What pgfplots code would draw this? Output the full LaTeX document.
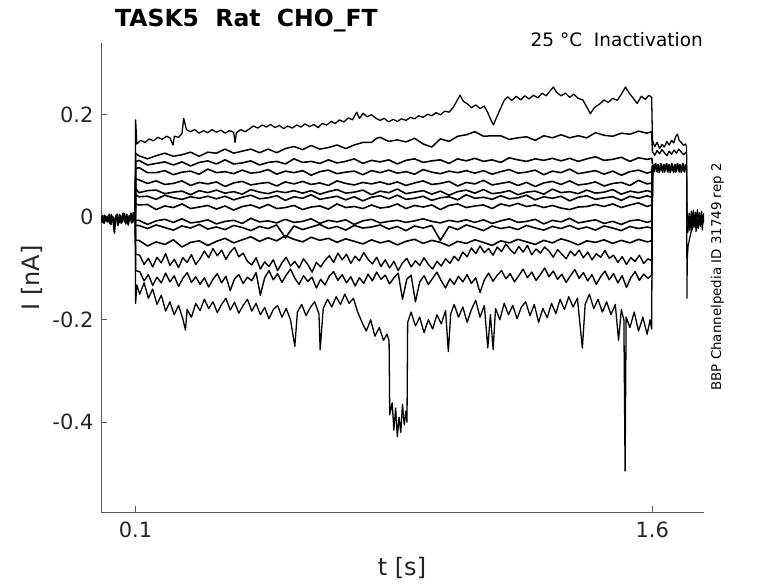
\documentclass[border=0pt]{standalone}
\usepackage{pgfplots}
\usepackage{pgfplotstable}
\pgfplotsset{compat=1.18}
\usepackage{fontspec}
\setmainfont{DejaVu Sans}
\definecolor{axgray}{RGB}{90,90,90}
\definecolor{txt}{RGB}{38,38,38}

\pgfplotstableread{
t C D E F G H I J K
0.0995 0 0 0 0 0 0 0 0 0
0.1005 0.108 0.095 0.075 0.056 0.044 0.026 -0.006 -0.016 -0.045
0.110 0.111 0.097 0.073 0.048 0.040 0.024 -0.006 -0.016 -0.045
0.135 0.102 0.087 0.066 0.052 0.041 0.025 -0.014 -0.022 -0.056
0.160 0.105 0.087 0.071 0.053 0.035 0.015 -0.007 -0.015 -0.048
0.185 0.108 0.091 0.064 0.046 0.043 0.022 -0.004 -0.020 -0.053
0.210 0.102 0.083 0.066 0.049 0.038 0.019 -0.010 -0.025 -0.044
0.235 0.108 0.088 0.071 0.051 0.035 0.026 -0.003 -0.017 -0.058
0.260 0.100 0.090 0.062 0.044 0.040 0.017 -0.011 -0.021 -0.049
0.285 0.107 0.084 0.068 0.052 0.037 0.020 -0.009 -0.014 -0.046
0.310 0.110 0.094 0.065 0.048 0.041 0.023 -0.005 -0.023 -0.055
0.335 0.104 0.087 0.069 0.053 0.036 0.016 -0.013 -0.019 -0.047
0.360 0.112 0.089 0.060 0.047 0.041 0.022 -0.008 -0.024 -0.041
0.385 0.104 0.085 0.067 0.050 0.034 0.014 -0.006 -0.016 -0.050
0.410 0.106 0.092 0.070 0.045 0.039 0.021 -0.012 -0.020 -0.044
0.435 0.110 0.086 0.063 0.054 0.043 0.024 -0.002 -0.026 -0.038
0.460 0.102 0.088 0.066 0.049 0.036 0.018 -0.009 -0.018 -0.047
0.485 0.107 0.093 0.068 0.046 0.038 0.025 -0.007 -0.022 -0.040
0.510 0.109 0.084 0.061 0.051 0.042 0.017 -0.011 -0.015 -0.046
0.535 0.104 0.090 0.069 0.048 0.033 0.019 -0.004 -0.040 -0.036
0.560 0.114 0.087 0.065 0.052 0.040 0.023 -0.010 -0.017 -0.043
0.585 0.107 0.091 0.070 0.047 0.037 0.015 -0.008 -0.024 -0.048
0.610 0.109 0.082 0.064 0.052 0.044 0.020 -0.003 -0.019 -0.039
0.635 0.105 0.089 0.067 0.045 0.035 0.022 -0.012 -0.014 -0.045
0.660 0.112 0.092 0.062 0.050 0.038 0.016 -0.006 -0.022 -0.041
0.685 0.106 0.085 0.071 0.054 0.041 0.026 -0.009 -0.018 -0.049
0.710 0.109 0.088 0.066 0.047 0.034 0.019 -0.005 -0.025 -0.042
0.735 0.114 0.090 0.063 0.049 0.040 0.021 -0.014 -0.016 -0.047
0.760 0.105 0.083 0.068 0.053 0.032 0.017 -0.007 -0.021 -0.052
0.785 0.111 0.091 0.065 0.044 0.039 0.024 -0.004 -0.019 -0.044
0.810 0.108 0.087 0.069 0.051 0.042 0.018 -0.011 -0.015 -0.050
0.835 0.112 0.092 0.064 0.048 0.036 0.020 -0.008 -0.023 -0.046
0.860 0.104 0.086 0.069 0.055 0.043 0.026 -0.006 -0.018 -0.054
0.885 0.111 0.089 0.062 0.046 0.035 0.017 -0.010 -0.026 -0.047
0.910 0.114 0.084 0.067 0.049 0.037 0.023 -0.007 -0.017 -0.043
0.935 0.107 0.093 0.071 0.052 0.041 0.020 -0.003 -0.021 -0.051
0.960 0.110 0.088 0.064 0.045 0.033 0.024 -0.008 -0.016 -0.045
0.985 0.112 0.085 0.066 0.051 0.038 0.015 -0.011 -0.045 -0.049
1.010 0.105 0.090 0.070 0.043 0.040 0.023 -0.006 -0.018 -0.056
1.035 0.114 0.087 0.061 0.050 0.034 0.026 -0.009 -0.024 -0.047
1.060 0.110 0.091 0.068 0.053 0.044 0.019 -0.005 -0.015 -0.051
1.085 0.115 0.086 0.065 0.047 0.037 0.022 -0.010 -0.020 -0.044
1.110 0.109 0.091 0.072 0.054 0.039 0.024 -0.005 -0.026 -0.049
1.135 0.112 0.084 0.063 0.046 0.035 0.017 -0.012 -0.017 -0.055
1.160 0.107 0.089 0.066 0.048 0.042 0.026 -0.007 -0.022 -0.046
1.185 0.116 0.093 0.069 0.052 0.036 0.022 -0.003 -0.019 -0.050
1.210 0.112 0.086 0.062 0.044 0.038 0.027 -0.010 -0.024 -0.043
1.235 0.109 0.088 0.068 0.049 0.043 0.021 -0.008 -0.016 -0.048
1.260 0.114 0.092 0.060 0.051 0.034 0.024 -0.004 -0.021 -0.053
1.285 0.111 0.083 0.067 0.045 0.040 0.019 -0.013 -0.025 -0.045
1.310 0.115 0.090 0.070 0.055 0.037 0.023 -0.006 -0.018 -0.050
1.335 0.110 0.087 0.064 0.048 0.041 0.018 -0.009 -0.022 -0.042
1.360 0.115 0.094 0.071 0.050 0.032 0.015 -0.002 -0.016 -0.047
1.385 0.109 0.085 0.063 0.046 0.039 0.020 -0.011 -0.023 -0.054
1.410 0.114 0.088 0.065 0.053 0.042 0.021 -0.008 -0.019 -0.046
1.435 0.118 0.091 0.069 0.047 0.035 0.025 -0.005 -0.025 -0.049
1.460 0.111 0.084 0.061 0.049 0.038 0.021 -0.012 -0.017 -0.044
1.485 0.113 0.090 0.066 0.054 0.040 0.026 -0.008 -0.021 -0.051
1.510 0.117 0.082 0.068 0.045 0.033 0.019 -0.014 -0.026 -0.045
1.535 0.109 0.089 0.062 0.051 0.041 0.024 -0.007 -0.018 -0.050
1.560 0.116 0.092 0.072 0.048 0.037 0.028 -0.005 -0.022 -0.043
1.585 0.113 0.086 0.065 0.052 0.042 0.021 -0.010 -0.019 -0.048
1.5985 0.115 0.089 0.067 0.049 0.039 0.024 -0.007 -0.021 -0.046
1.6005 0.104 0.100 0.092 0.097 0.088 0.102 0.095 0.090 0.099
}\steps

\begin{document}
\begin{tikzpicture}
\path[use as bounding box] (0,0) rectangle (778pt,583pt);
\begin{axis}[
  at={(101pt,71pt)}, anchor=south west,
  scale only axis, width=603pt, height=469pt,
  xmin=0, xmax=1.75, ymin=-0.575, ymax=0.34,
  axis x line*=bottom, axis y line*=left,
  axis line style={draw=axgray, line width=0.7pt, -},
  tick style={draw=axgray, line width=0.7pt},
  major tick length=6pt, tick align=inside,
  xtick={0.1,1.6}, xticklabels={0.1,1.6},
  ytick={-0.4,-0.2,0,0.2}, yticklabels={-0.4,-0.2,0,0.2},
  ticklabel style={font=\fontsize{21pt}{25pt}\selectfont, text=txt},
  yticklabel style={xshift=-4pt},
  xticklabel style={yshift=-6pt},
  every axis plot post/.append style={black, mark=none, solid, line join=round},
  clip=true,
]
% pre-step baseline
\addplot[line width=1.6pt] coordinates {(0,-0.002)(0.005,-0.010)(0.01,0.004)(0.015,-0.008)(0.02,0.002)(0.025,-0.012)(0.03,0.005)(0.035,-0.006)(0.039,-0.031)(0.042,-0.004)(0.047,0.006)(0.052,-0.011)(0.057,0.003)(0.062,-0.009)(0.067,0.007)(0.072,-0.013)(0.077,0.004)(0.082,-0.007)(0.087,0.008)(0.092,-0.010)(0.097,0.005)(0.0995,0.0)};
\addplot[line width=1.6pt] coordinates {(0,-0.008)(0.004,0.003)(0.009,-0.012)(0.014,0.002)(0.019,-0.009)(0.024,0.006)(0.029,-0.014)(0.034,0.001)(0.039,-0.010)(0.044,0.004)(0.049,-0.016)(0.054,0.005)(0.059,-0.012)(0.064,0.008)(0.069,-0.009)(0.074,0.006)(0.079,-0.015)(0.084,0.003)(0.089,-0.011)(0.094,0.009)(0.0995,-0.006)};
% trace A (top)
\addplot[line width=1.3pt] coordinates {(0.0995,0.000)(0.1005,0.190)(0.104,0.143)(0.115,0.150)(0.128,0.146)(0.140,0.153)(0.152,0.149)(0.165,0.156)(0.178,0.152)(0.190,0.158)(0.200,0.155)(0.209,0.141)(0.213,0.158)(0.225,0.156)(0.235,0.163)(0.240,0.193)(0.248,0.171)(0.260,0.167)(0.272,0.171)(0.285,0.164)(0.298,0.169)(0.310,0.165)(0.322,0.171)(0.335,0.166)(0.348,0.170)(0.360,0.164)(0.372,0.169)(0.385,0.166)(0.389,0.146)(0.393,0.165)(0.405,0.171)(0.418,0.167)(0.430,0.172)(0.442,0.178)(0.455,0.174)(0.468,0.180)(0.480,0.176)(0.492,0.181)(0.505,0.175)(0.518,0.179)(0.530,0.173)(0.542,0.178)(0.555,0.174)(0.568,0.180)(0.580,0.176)(0.592,0.182)(0.605,0.177)(0.618,0.181)(0.630,0.175)(0.642,0.183)(0.655,0.180)(0.668,0.187)(0.680,0.183)(0.692,0.190)(0.705,0.186)(0.718,0.194)(0.730,0.190)(0.742,0.205)(0.750,0.193)(0.761,0.203)(0.772,0.196)(0.785,0.200)(0.798,0.193)(0.810,0.189)(0.822,0.193)(0.835,0.186)(0.848,0.191)(0.860,0.187)(0.872,0.192)(0.885,0.189)(0.898,0.195)(0.910,0.192)(0.922,0.198)(0.935,0.195)(0.948,0.201)(0.960,0.198)(0.972,0.204)(0.985,0.200)(0.998,0.207)(1.010,0.205)(1.022,0.214)(1.032,0.226)(1.042,0.238)(1.052,0.226)(1.062,0.222)(1.075,0.214)(1.088,0.219)(1.100,0.212)(1.112,0.217)(1.122,0.205)(1.130,0.192)(1.139,0.180)(1.148,0.195)(1.160,0.213)(1.170,0.228)(1.180,0.235)(1.192,0.228)(1.205,0.236)(1.218,0.229)(1.230,0.237)(1.242,0.231)(1.255,0.238)(1.268,0.233)(1.280,0.242)(1.292,0.237)(1.305,0.248)(1.313,0.254)(1.322,0.244)(1.335,0.237)(1.348,0.242)(1.360,0.234)(1.372,0.240)(1.385,0.232)(1.398,0.229)(1.410,0.215)(1.420,0.202)(1.432,0.214)(1.449,0.222)(1.460,0.229)(1.472,0.224)(1.485,0.232)(1.498,0.228)(1.510,0.240)(1.522,0.254)(1.532,0.243)(1.545,0.232)(1.556,0.222)(1.568,0.236)(1.580,0.230)(1.590,0.238)(1.598,0.234)(1.6005,0.150)};
% trace B
\addplot[line width=1.5pt] coordinates {(0.0995,0)(0.1005,0.125)(0.110,0.120)(0.135,0.114)(0.160,0.120)(0.185,0.125)(0.210,0.119)(0.235,0.122)(0.260,0.127)(0.285,0.119)(0.310,0.127)(0.335,0.125)(0.360,0.133)(0.385,0.125)(0.410,0.129)(0.435,0.133)(0.460,0.126)(0.485,0.133)(0.510,0.126)(0.535,0.134)(0.560,0.138)(0.585,0.132)(0.610,0.140)(0.635,0.133)(0.660,0.136)(0.685,0.141)(0.710,0.134)(0.735,0.141)(0.760,0.146)(0.785,0.146)(0.800,0.154)(0.810,0.156)(0.835,0.148)(0.860,0.151)(0.885,0.147)(0.910,0.154)(0.935,0.143)(0.960,0.137)(0.985,0.153)(1.010,0.148)(1.035,0.158)(1.060,0.161)(1.085,0.167)(1.110,0.158)(1.135,0.159)(1.160,0.159)(1.185,0.152)(1.210,0.155)(1.235,0.157)(1.260,0.150)(1.285,0.159)(1.310,0.155)(1.335,0.161)(1.360,0.155)(1.385,0.159)(1.410,0.155)(1.435,0.165)(1.460,0.160)(1.485,0.158)(1.510,0.164)(1.535,0.162)(1.560,0.168)(1.585,0.164)(1.598,0.167)(1.6005,0.128)};
% middle traces
\addplot[line width=1.6pt] table[x=t,y=C]{\steps};
\addplot[line width=1.6pt] table[x=t,y=D]{\steps};
\addplot[line width=1.6pt] table[x=t,y=E]{\steps};
\addplot[line width=1.6pt] table[x=t,y=F]{\steps};
\addplot[line width=1.6pt] table[x=t,y=G]{\steps};
\addplot[line width=1.6pt] table[x=t,y=H]{\steps};
\addplot[line width=1.6pt] table[x=t,y=I]{\steps};
\addplot[line width=1.6pt] table[x=t,y=J]{\steps};
\addplot[line width=1.6pt] table[x=t,y=K]{\steps};
% trace L
\addplot[line width=1.4pt] coordinates {(0.0995,0)(0.1005,-0.072)(0.1125,-0.074)(0.125,-0.092)(0.1375,-0.080)(0.150,-0.097)(0.1625,-0.078)(0.175,-0.089)(0.1875,-0.071)(0.200,-0.094)(0.2125,-0.082)(0.225,-0.098)(0.2375,-0.079)(0.250,-0.088)(0.2625,-0.073)(0.275,-0.092)(0.2875,-0.081)(0.300,-0.066)(0.3125,-0.079)(0.325,-0.061)(0.3375,-0.075)(0.350,-0.064)(0.3625,-0.082)(0.375,-0.068)(0.3875,-0.059)(0.400,-0.077)(0.4125,-0.070)(0.425,-0.086)(0.4375,-0.093)(0.450,-0.079)(0.4625,-0.101)(0.475,-0.087)(0.4875,-0.096)(0.500,-0.083)(0.5125,-0.104)(0.525,-0.089)(0.5375,-0.078)(0.550,-0.095)(0.5625,-0.086)(0.575,-0.099)(0.5875,-0.081)(0.600,-0.092)(0.6125,-0.107)(0.625,-0.088)(0.6375,-0.097)(0.650,-0.084)(0.6625,-0.075)(0.675,-0.088)(0.6875,-0.070)(0.700,-0.083)(0.7125,-0.072)(0.725,-0.090)(0.7375,-0.076)(0.750,-0.085)(0.7625,-0.069)(0.775,-0.082)(0.7875,-0.091)(0.800,-0.078)(0.8125,-0.096)(0.825,-0.083)(0.8375,-0.099)(0.850,-0.086)(0.8625,-0.104)(0.875,-0.089)(0.8875,-0.080)(0.900,-0.097)(0.9125,-0.085)(0.925,-0.094)(0.9375,-0.079)(0.950,-0.092)(0.9625,-0.101)(0.975,-0.086)(0.9875,-0.095)(1.000,-0.081)(1.0125,-0.090)(1.025,-0.076)(1.0375,-0.085)(1.050,-0.068)(1.0625,-0.077)(1.075,-0.060)(1.0875,-0.071)(1.100,-0.056)(1.1125,-0.069)(1.125,-0.061)(1.1375,-0.074)(1.150,-0.058)(1.1625,-0.067)(1.175,-0.052)(1.1875,-0.063)(1.200,-0.071)(1.2125,-0.057)(1.225,-0.068)(1.2375,-0.055)(1.250,-0.073)(1.2625,-0.062)(1.275,-0.070)(1.2875,-0.058)(1.300,-0.066)(1.3125,-0.078)(1.325,-0.063)(1.3375,-0.072)(1.350,-0.081)(1.3625,-0.066)(1.375,-0.075)(1.3875,-0.064)(1.400,-0.079)(1.4125,-0.068)(1.425,-0.083)(1.4375,-0.071)(1.450,-0.078)(1.4625,-0.065)(1.475,-0.080)(1.4875,-0.074)(1.500,-0.088)(1.5125,-0.077)(1.525,-0.092)(1.5375,-0.079)(1.550,-0.086)(1.5625,-0.074)(1.575,-0.090)(1.5875,-0.081)(1.5985,-0.085)(1.6005,0.093)};
% trace M
\addplot[line width=1.4pt] coordinates {(0.0995,0)(0.1005,-0.104)(0.1125,-0.106)(0.125,-0.124)(0.1375,-0.112)(0.150,-0.133)(0.1625,-0.117)(0.175,-0.128)(0.1875,-0.109)(0.200,-0.126)(0.2125,-0.114)(0.225,-0.135)(0.2375,-0.119)(0.250,-0.108)(0.2625,-0.127)(0.275,-0.116)(0.2875,-0.131)(0.300,-0.118)(0.3125,-0.136)(0.325,-0.121)(0.3375,-0.110)(0.350,-0.128)(0.3625,-0.115)(0.375,-0.143)(0.3875,-0.120)(0.400,-0.112)(0.4125,-0.129)(0.425,-0.117)(0.4375,-0.124)(0.450,-0.108)(0.4625,-0.152)(0.475,-0.118)(0.4875,-0.104)(0.500,-0.122)(0.5125,-0.110)(0.525,-0.127)(0.5375,-0.113)(0.550,-0.101)(0.5625,-0.119)(0.575,-0.131)(0.5875,-0.114)(0.600,-0.125)(0.6125,-0.117)(0.625,-0.138)(0.6375,-0.121)(0.650,-0.132)(0.6625,-0.115)(0.675,-0.106)(0.6875,-0.123)(0.700,-0.112)(0.7125,-0.128)(0.725,-0.116)(0.7375,-0.134)(0.750,-0.118)(0.7625,-0.129)(0.775,-0.111)(0.7875,-0.124)(0.800,-0.107)(0.8125,-0.121)(0.825,-0.113)(0.8375,-0.130)(0.850,-0.118)(0.8625,-0.109)(0.875,-0.160)(0.8875,-0.121)(0.900,-0.113)(0.9125,-0.165)(0.925,-0.126)(0.9375,-0.114)(0.950,-0.131)(0.9625,-0.119)(0.975,-0.107)(0.9875,-0.124)(1.000,-0.138)(1.0125,-0.120)(1.025,-0.131)(1.0375,-0.115)(1.050,-0.126)(1.0625,-0.112)(1.075,-0.129)(1.0875,-0.118)(1.100,-0.147)(1.1125,-0.122)(1.125,-0.109)(1.1375,-0.125)(1.150,-0.113)(1.1625,-0.104)(1.175,-0.120)(1.1875,-0.110)(1.200,-0.126)(1.2125,-0.114)(1.225,-0.101)(1.2375,-0.118)(1.250,-0.107)(1.2625,-0.123)(1.275,-0.112)(1.2875,-0.099)(1.300,-0.116)(1.3125,-0.105)(1.325,-0.121)(1.3375,-0.111)(1.350,-0.127)(1.3625,-0.114)(1.375,-0.102)(1.3875,-0.119)(1.400,-0.108)(1.4125,-0.124)(1.425,-0.112)(1.4375,-0.131)(1.450,-0.116)(1.4625,-0.105)(1.475,-0.122)(1.4875,-0.110)(1.500,-0.128)(1.5125,-0.114)(1.525,-0.137)(1.5375,-0.118)(1.550,-0.106)(1.5625,-0.123)(1.575,-0.111)(1.5875,-0.119)(1.5985,-0.113)(1.6005,0.087)};
% trace N (bottom)
\addplot[line width=1.3pt] coordinates {(0.0995,0.000)(0.1005,-0.168)(0.104,-0.132)(0.1125,-0.150)(0.125,-0.128)(0.1375,-0.158)(0.150,-0.140)(0.1625,-0.170)(0.175,-0.152)(0.1875,-0.183)(0.200,-0.165)(0.2125,-0.190)(0.225,-0.172)(0.2375,-0.198)(0.245,-0.220)(0.250,-0.180)(0.2625,-0.195)(0.275,-0.168)(0.2875,-0.182)(0.300,-0.160)(0.3125,-0.178)(0.325,-0.165)(0.3375,-0.186)(0.350,-0.170)(0.3625,-0.158)(0.375,-0.181)(0.3875,-0.166)(0.400,-0.187)(0.4125,-0.172)(0.425,-0.160)(0.4375,-0.183)(0.450,-0.168)(0.4625,-0.190)(0.475,-0.176)(0.4875,-0.198)(0.500,-0.180)(0.5125,-0.172)(0.525,-0.195)(0.5375,-0.178)(0.550,-0.200)(0.5625,-0.252)(0.570,-0.185)(0.5825,-0.170)(0.595,-0.192)(0.6075,-0.176)(0.620,-0.165)(0.6325,-0.188)(0.636,-0.258)(0.645,-0.178)(0.6575,-0.160)(0.670,-0.175)(0.6825,-0.155)(0.695,-0.170)(0.7075,-0.150)(0.720,-0.168)(0.7325,-0.158)(0.745,-0.185)(0.7575,-0.205)(0.770,-0.222)(0.7825,-0.200)(0.795,-0.232)(0.8075,-0.215)(0.820,-0.240)(0.830,-0.228)(0.836,-0.240)(0.838,-0.385)(0.845,-0.362)(0.850,-0.415)(0.855,-0.372)(0.860,-0.428)(0.865,-0.390)(0.870,-0.420)(0.875,-0.365)(0.880,-0.405)(0.885,-0.378)(0.888,-0.400)(0.890,-0.205)(0.900,-0.185)(0.9125,-0.212)(0.925,-0.195)(0.9375,-0.225)(0.950,-0.200)(0.9625,-0.218)(0.975,-0.190)(0.9875,-0.208)(1.000,-0.182)(1.008,-0.262)(1.015,-0.188)(1.025,-0.170)(1.0375,-0.195)(1.050,-0.175)(1.0625,-0.205)(1.075,-0.180)(1.0875,-0.162)(1.100,-0.195)(1.1125,-0.172)(1.1225,-0.255)(1.130,-0.190)(1.138,-0.258)(1.145,-0.178)(1.1575,-0.200)(1.170,-0.168)(1.1825,-0.190)(1.195,-0.172)(1.2075,-0.198)(1.220,-0.175)(1.2325,-0.165)(1.245,-0.192)(1.2575,-0.170)(1.270,-0.205)(1.2825,-0.178)(1.295,-0.196)(1.3075,-0.168)(1.320,-0.188)(1.3325,-0.160)(1.345,-0.180)(1.3575,-0.155)(1.370,-0.175)(1.3825,-0.158)(1.397,-0.255)(1.405,-0.170)(1.4175,-0.150)(1.430,-0.178)(1.4425,-0.160)(1.455,-0.185)(1.4675,-0.165)(1.480,-0.190)(1.4925,-0.170)(1.502,-0.240)(1.510,-0.180)(1.5175,-0.200)(1.521,-0.495)(1.524,-0.195)(1.535,-0.215)(1.5475,-0.185)(1.560,-0.222)(1.5725,-0.195)(1.585,-0.228)(1.5935,-0.200)(1.598,-0.218)(1.6005,0.090)};
% tail 1.6 - 1.7
\addplot[line width=1.3pt] coordinates {(1.6005,0.150)(1.607,0.138)(1.614,0.146)(1.621,0.134)(1.628,0.142)(1.635,0.137)(1.642,0.148)(1.649,0.141)(1.656,0.150)(1.662,0.145)(1.668,0.158)(1.673,0.162)(1.678,0.150)(1.684,0.146)(1.690,0.140)(1.696,0.143)(1.6995,0.138)};
\addplot[line width=1.3pt] coordinates {(1.6005,0.128)(1.607,0.121)(1.614,0.130)(1.621,0.124)(1.628,0.132)(1.635,0.126)(1.642,0.120)(1.649,0.129)(1.656,0.123)(1.663,0.131)(1.670,0.125)(1.677,0.133)(1.684,0.127)(1.691,0.122)(1.6995,0.128)};
\addplot[line width=1.3pt] coordinates {(1.6005,0.100)(1.604,0.088)(1.608,0.104)(1.612,0.090)(1.616,0.103)(1.620,0.087)(1.624,0.105)(1.628,0.091)(1.632,0.102)(1.636,0.088)(1.640,0.104)(1.644,0.089)(1.648,0.103)(1.652,0.087)(1.656,0.105)(1.660,0.090)(1.664,0.102)(1.668,0.088)(1.672,0.104)(1.676,0.091)(1.680,0.103)(1.684,0.087)(1.688,0.105)(1.692,0.089)(1.696,0.102)(1.6995,0.092)};
\addplot[line width=1.3pt] coordinates {(1.6005,0.094)(1.602,0.103)(1.606,0.089)(1.610,0.105)(1.614,0.088)(1.618,0.102)(1.622,0.090)(1.626,0.104)(1.630,0.087)(1.634,0.103)(1.638,0.091)(1.642,0.105)(1.646,0.088)(1.650,0.102)(1.654,0.090)(1.658,0.104)(1.662,0.087)(1.666,0.103)(1.670,0.089)(1.674,0.105)(1.678,0.088)(1.682,0.102)(1.686,0.090)(1.690,0.104)(1.694,0.088)(1.698,0.103)(1.6995,0.100)};
% after 1.7
\addplot[line width=1.2pt] coordinates {(1.6995,0.100)(1.7005,-0.158)(1.7015,-0.080)(1.704,-0.055)(1.708,-0.042)(1.712,-0.030)(1.716,-0.022)(1.720,-0.012)(1.725,-0.018)(1.730,-0.005)(1.735,-0.014)(1.740,-0.002)(1.745,-0.012)(1.750,-0.004)};
\addplot[line width=1.2pt] coordinates {(1.6995,0.138)(1.7005,0.010)(1.704,-0.012)(1.707,0.008)(1.710,-0.020)(1.713,0.012)(1.716,-0.008)(1.719,0.014)(1.722,-0.015)(1.725,0.010)(1.728,-0.005)(1.731,0.015)(1.734,-0.012)(1.737,0.009)(1.740,-0.018)(1.743,0.012)(1.746,-0.006)(1.750,0.008)};
\addplot[line width=1.2pt] coordinates {(1.6995,0.092)(1.7005,-0.020)(1.703,-0.030)(1.706,-0.010)(1.709,-0.026)(1.712,0.002)(1.715,-0.024)(1.718,0.004)(1.721,-0.020)(1.724,0.000)(1.727,-0.028)(1.730,-0.004)(1.733,-0.022)(1.736,0.006)(1.739,-0.018)(1.742,-0.002)(1.745,-0.025)(1.748,0.003)(1.750,-0.012)};
\end{axis}
% texts
\node[anchor=base west, inner sep=0pt, text=black, font=\fontsize{23.5pt}{28pt}\selectfont\bfseries] at (115pt,556pt) {TASK5\ \ Rat\ \ CHO\_FT};
\node[anchor=base east, inner sep=0pt, text=black, font=\fontsize{18.5pt}{22pt}\selectfont] at (703pt,536pt) {25 °C\ \ Inactivation};
\node[anchor=base, inner sep=0pt, text=txt, font=\fontsize{24pt}{28pt}\selectfont] at (402pt,8pt) {t [s]};
\node[anchor=base, inner sep=0pt, rotate=90, text=txt, font=\fontsize{24pt}{28pt}\selectfont] at (39pt,305pt) {I [nA]};
\node[anchor=base, inner sep=0pt, rotate=90, text=black, font=\fontsize{13.4pt}{16pt}\selectfont] at (721pt,306pt) {BBP Channelpedia ID 31749 rep 2};
\end{tikzpicture}
\end{document}
